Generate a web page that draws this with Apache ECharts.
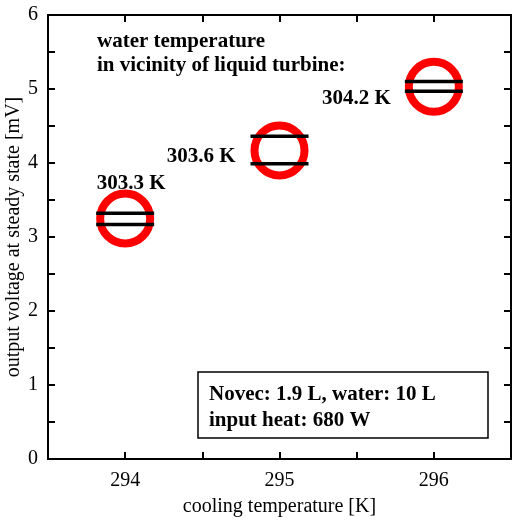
<!DOCTYPE html>
<html>
<head>
<meta charset="utf-8">
<script src="https://cdn.jsdelivr.net/npm/echarts@6/dist/echarts.min.js"></script>
<style>
  html, body { margin: 0; padding: 0; background: #fff; }
  #chart { width: 512px; height: 521px; }
</style>
</head>
<body>
<div id="chart"></div>
<script>
// ===== data =====
const coolingTemp = [294, 295, 296];
const voltage     = [3.25, 4.17, 5.03];
const upperBar    = [3.32, 4.36, 5.10];
const lowerBar    = [3.17, 3.99, 4.97];
const waterTemp   = ['303.3 K', '303.6 K', '304.2 K'];

const SERIF = '"Liberation Serif", "Times New Roman", serif';

const chart = echarts.init(document.getElementById('chart'), null, { renderer: 'canvas' });

// label placement per point (above first, left for the others)
const labelPos = [
  { position: 'top', distance: 6, offset: [6, 11] },
  { position: 'left', distance: 15, offset: [0, 6] },
  { position: 'left', distance: 14, offset: [0, 12] }
];

const axisCommon = {
  axisLine: { onZero: false, lineStyle: { color: '#000', width: 2 } },
  axisTick: { inside: true, length: 7, lineStyle: { color: '#000', width: 2 } },
  splitLine: { show: false }
};

const option = {
  animation: false,
  grid: { left: 48, right: 1, top: 15, bottom: 62, containLabel: false, outerBoundsMode: 'none' },
  xAxis: [
    Object.assign({}, axisCommon, {
      type: 'value', min: 293.5, max: 296.5, interval: 0.5,
      name: 'cooling temperature [K]', nameLocation: 'middle', nameGap: 38, nameMoveOverlap: false,
      nameTextStyle: { fontFamily: SERIF, fontSize: 20, color: '#000' },
      axisLabel: {
        fontFamily: SERIF, fontSize: 20, color: '#000', margin: 12,
        formatter: v => (Number.isInteger(v) ? String(v) : '')
      }
    }),
    Object.assign({}, axisCommon, {
      type: 'value', min: 293.5, max: 296.5, interval: 0.5, position: 'top',
      axisLabel: { show: false }
    })
  ],
  yAxis: [
    Object.assign({}, axisCommon, {
      type: 'value', min: 0, max: 6, interval: 0.5,
      name: 'output voltage at steady state [mV]', nameLocation: 'middle', nameGap: 24, nameMoveOverlap: false,
      nameTextStyle: { fontFamily: SERIF, fontSize: 20, color: '#000' },
      axisLabel: {
        fontFamily: SERIF, fontSize: 20, color: '#000', margin: 10,
        formatter: v => (Number.isInteger(v) ? String(v) : '')
      }
    }),
    Object.assign({}, axisCommon, {
      type: 'value', min: 0, max: 6, interval: 0.5, position: 'right',
      axisLabel: { show: false }
    })
  ],
  series: [
    {
      type: 'scatter',
      symbol: 'circle',
      symbolSize: 50,
      itemStyle: { color: 'transparent', borderColor: '#ff0000', borderWidth: 8, opacity: 1 },
      data: coolingTemp.map((x, i) => ({
        value: [x, voltage[i]],
        label: Object.assign({
          show: true, formatter: waterTemp[i],
          fontFamily: SERIF, fontSize: 21, fontWeight: 'bold', color: '#000'
        }, labelPos[i])
      })),
      z: 2
    },
    {
      type: 'scatter',
      symbol: 'rect',
      symbolSize: [58, 3.5],
      itemStyle: { color: '#000', opacity: 1 },
      data: coolingTemp.map((x, i) => [x, upperBar[i]]),
      z: 3
    },
    {
      type: 'scatter',
      symbol: 'rect',
      symbolSize: [58, 3.5],
      itemStyle: { color: '#000', opacity: 1 },
      data: coolingTemp.map((x, i) => [x, lowerBar[i]]),
      z: 3
    }
  ],
  graphic: [
    {
      type: 'text', left: 97, top: 30,
      style: {
        text: 'water temperature\nin vicinity of liquid turbine:',
        font: 'bold 21px ' + SERIF, fill: '#000', lineHeight: 24
      }
    },
    {
      type: 'rect', shape: { x: 198, y: 372, width: 290, height: 66 },
      style: { fill: '#fff', stroke: '#000', lineWidth: 1.5 }
    },
    {
      type: 'text', left: 209, top: 382,
      style: {
        text: 'Novec: 1.9 L, water: 10 L\ninput heat: 680 W',
        font: 'bold 21px ' + SERIF, fill: '#000', lineHeight: 26
      }
    }
  ]
};

chart.setOption(option);
</script>
</body>
</html>
